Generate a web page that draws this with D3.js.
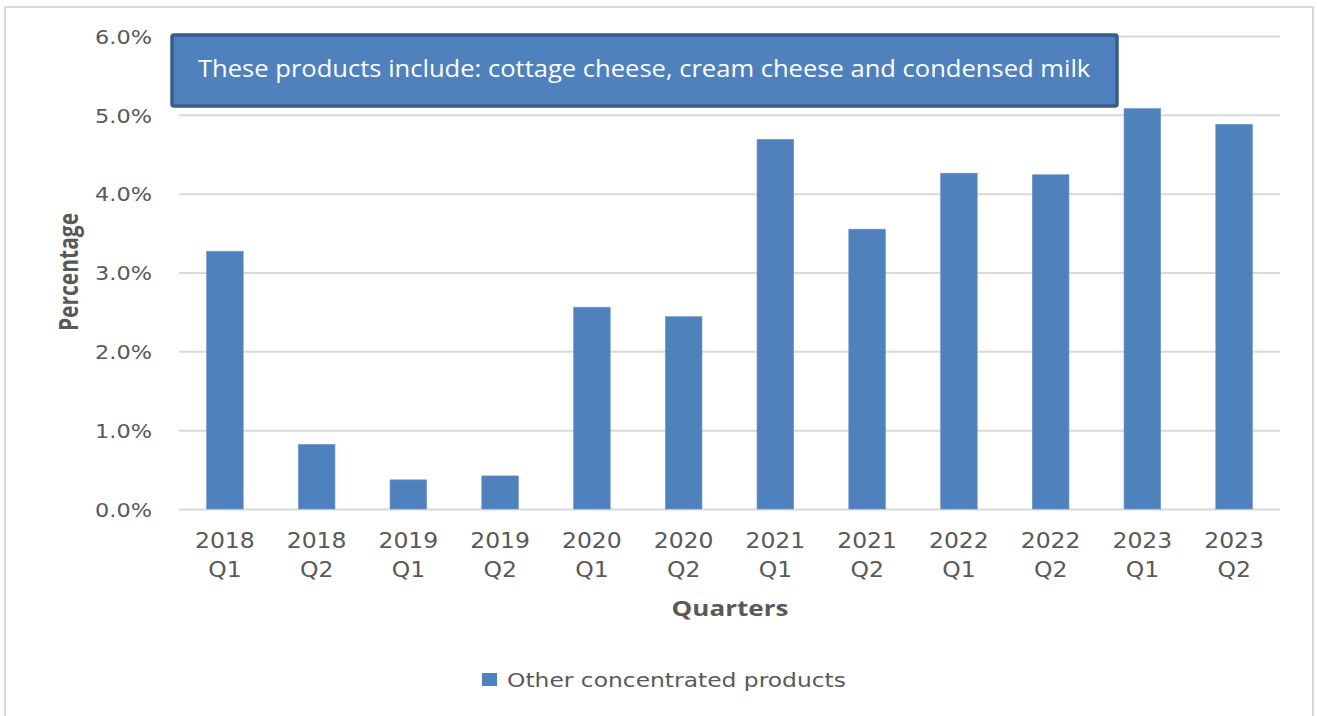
<!DOCTYPE html>
<html>
<head>
<meta charset="utf-8">
<script src="https://cdn.jsdelivr.net/npm/d3@7"></script>
<style>
  html, body { margin: 0; padding: 0; background: #ffffff; }
  svg { display: block; }
</style>
</head>
<body>
<svg id="chart" width="1317" height="716"></svg>
<script>
// Quarterly share of other concentrated dairy products
const years = ["2018", "2018", "2019", "2019", "2020", "2020", "2021", "2021", "2022", "2022", "2023", "2023"];
const quarters = ["Q1", "Q2", "Q1", "Q2", "Q1", "Q2", "Q1", "Q2", "Q1", "Q2", "Q1", "Q2"];
const values = [3.27, 0.82, 0.37, 0.42, 2.56, 2.44, 4.69, 3.55, 4.26, 4.24, 5.08, 4.88];
const yTicks = [0, 1, 2, 3, 4, 5, 6];
const seriesName = "Other concentrated products";
const noteText = "These products include: cottage cheese, cream cheese and condensed milk";
const xTitle = "Quarters";
const yTitle = "Percentage";

const categories = years.map((y, i) => y + " " + quarters[i]);

const svg = d3.select("#chart");
const margin = { left: 179, right: 1280, top: 36, bottom: 509 };
const barColor = "#4f81bd";
const gridColor = "#d9d9d9";
const textColor = "#595959";
const font = "'DejaVu Sans', sans-serif";
const wideX = 1.12; // labels are set in a slightly widened face

// outer chart frame
svg.append("rect")
  .attr("x", 5).attr("y", 7)
  .attr("width", 1308).attr("height", 730)
  .attr("fill", "#ffffff")
  .attr("stroke", gridColor).attr("stroke-width", 2);

const x = d3.scaleBand()
  .domain(categories)
  .range([margin.left, margin.right])
  .paddingInner(0.6)
  .paddingOuter(0.3);

const y = d3.scaleLinear()
  .domain([0, 6])
  .range([margin.bottom, margin.top]);

// horizontal gridlines and y tick labels
const yAxis = d3.axisLeft(y)
  .tickValues(yTicks)
  .tickFormat(d => d3.format(".1f")(d) + "%")
  .tickSize(-(margin.right - margin.left))
  .tickPadding(27);

const gy = svg.append("g")
  .attr("transform", `translate(${margin.left},0)`)
  .call(yAxis);
gy.select(".domain").remove();
gy.selectAll(".tick line").attr("stroke", gridColor).attr("stroke-width", 2);
gy.selectAll(".tick text")
  .attr("fill", textColor)
  .attr("font-family", font)
  .attr("font-size", 20)
  .attr("x", 0)
  .attr("dy", "0.36em")
  .attr("transform", `translate(-27,0) scale(${wideX},1)`);

// bars
svg.append("g")
  .selectAll("rect")
  .data(values)
  .join("rect")
  .attr("x", (d, i) => x(categories[i]))
  .attr("width", x.bandwidth())
  .attr("y", d => y(d))
  .attr("height", d => y(0) - y(d))
  .attr("fill", barColor)
  .attr("stroke", "#6f99cf")
  .attr("stroke-width", 0.6);

// x axis labels (two lines: year and quarter)
const xAxis = d3.axisBottom(x).tickSize(0).tickFormat(() => "");
const gx = svg.append("g")
  .attr("transform", `translate(0,${margin.bottom})`)
  .call(xAxis);
gx.select(".domain").remove();
gx.selectAll(".tick").each(function (d, i) {
  const t = d3.select(this).append("text")
    .attr("fill", textColor)
    .attr("font-family", font)
    .attr("font-size", 21)
    .attr("text-anchor", "middle")
    .attr("transform", `scale(${wideX},1)`);
  t.append("tspan").attr("x", 0).attr("y", 39).text(years[i]);
  t.append("tspan").attr("x", 0).attr("y", 68).text(quarters[i]);
});

// axis titles
svg.append("text")
  .attr("transform", "translate(730,616) scale(1.24,1)")
  .attr("text-anchor", "middle")
  .attr("fill", textColor)
  .attr("font-family", "'Open Sans', sans-serif")
  .attr("font-weight", 700)
  .attr("font-size", 21)
  .text(xTitle);

svg.append("text")
  .attr("transform", "translate(78,272) scale(1.25,1) rotate(-90)")
  .attr("text-anchor", "middle")
  .attr("fill", textColor)
  .attr("font-family", "'Open Sans', sans-serif")
  .attr("font-weight", 700)
  .attr("font-size", 21)
  .text(yTitle);

// legend
const legend = svg.append("g").attr("transform", "translate(482,673)");
legend.append("rect")
  .attr("width", 15).attr("height", 13)
  .attr("fill", barColor);
legend.append("text")
  .attr("transform", "translate(25,14) scale(1.17,1)")
  .attr("fill", textColor)
  .attr("font-family", font)
  .attr("font-size", 20)
  .text(seriesName);

// annotation box
const note = svg.append("g");
note.append("rect")
  .attr("x", 172).attr("y", 35)
  .attr("width", 945).attr("height", 71)
  .attr("rx", 2)
  .attr("fill", barColor)
  .attr("stroke", "#385d8a")
  .attr("stroke-width", 3.5);
note.append("text")
  .attr("transform", "translate(198,77) scale(1.065,1)")
  .attr("fill", "#ffffff")
  .attr("font-family", "'Open Sans', sans-serif")
  .attr("font-size", 24)
  .text(noteText);
</script>
</body>
</html>
